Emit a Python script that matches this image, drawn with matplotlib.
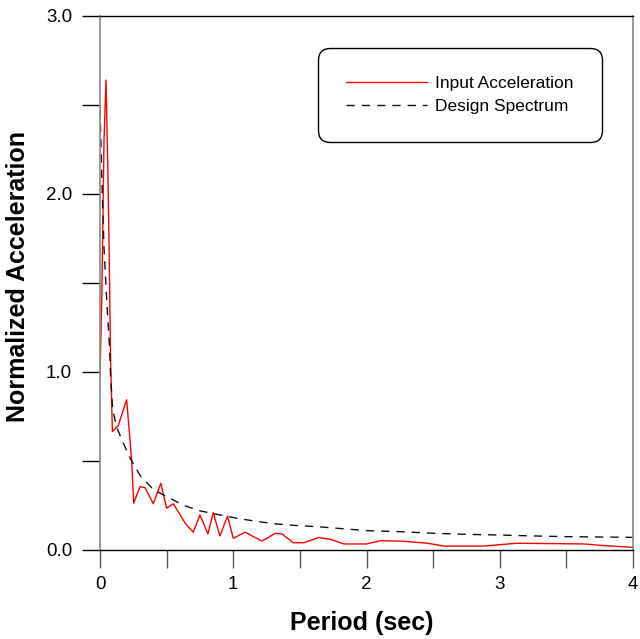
import matplotlib
matplotlib.use("Agg")
import matplotlib.pyplot as plt
from matplotlib.ticker import MultipleLocator, FormatStrFormatter

plt.rcParams['font.family'] = ['Liberation Sans', 'DejaVu Sans']

# input acceleration spectrum
period_in = [0, 0.013, 0.022, 0.03, 0.045, 0.06, 0.07, 0.08, 0.093, 0.138, 0.15, 0.2,
             0.238, 0.253, 0.30, 0.338, 0.40, 0.456, 0.50, 0.55, 0.64, 0.70, 0.75,
             0.81, 0.85, 0.90, 0.957, 1.00, 1.09, 1.215, 1.316, 1.366, 1.45, 1.53,
             1.64, 1.73, 1.83, 2.0, 2.1, 2.26, 2.46, 2.58, 2.88, 3.0, 3.13, 3.63,
             3.76, 4.0]
accel_in = [0.97, 1.41, 1.85, 2.3, 2.64, 2.1, 1.6, 1.05, 0.666, 0.70, 0.73, 0.844,
            0.5, 0.263, 0.356, 0.35, 0.26, 0.375, 0.235, 0.26, 0.15, 0.10, 0.197,
            0.09, 0.21, 0.079, 0.19, 0.066, 0.10, 0.05, 0.094, 0.09, 0.041, 0.041,
            0.07, 0.06, 0.034, 0.034, 0.052, 0.05, 0.038, 0.022, 0.022, 0.03, 0.038,
            0.034, 0.026, 0.015]

# design spectrum
period_ds = [0, 0.01, 0.02, 0.03, 0.05, 0.07, 0.08, 0.095, 0.125, 0.175, 0.23, 0.3,
             0.4, 0.5, 0.63, 0.75, 0.88, 1.03, 1.18, 1.33, 1.48, 1.63, 1.85, 2.0,
             2.25, 2.5, 2.75, 3.0, 3.25, 3.5, 3.75, 4.0]
accel_ds = [2.48, 2.2, 1.93, 1.7, 1.41, 1.16, 0.97, 0.79, 0.69, 0.60, 0.51, 0.42,
            0.34, 0.30, 0.25, 0.22, 0.20, 0.178, 0.16, 0.146, 0.137, 0.131, 0.118,
            0.109, 0.103, 0.094, 0.088, 0.084, 0.079, 0.075, 0.073, 0.071]

fig = plt.figure(figsize=(6.4, 6.39), dpi=100)
ax = fig.add_axes([100/640, 89/639, 533/640, 534/639])

ax.plot(period_in, accel_in, color='#ff0000', lw=1.0, label='Input Acceleration')
ax.plot(period_ds, accel_ds, color='#111111', lw=1.0, linestyle=(0, (6, 5)),
        label='Design Spectrum')

ax.set_xlim(0, 4)
ax.set_ylim(0, 3)

ax.xaxis.set_major_locator(MultipleLocator(1))
ax.xaxis.set_minor_locator(MultipleLocator(0.5))
ax.yaxis.set_major_locator(MultipleLocator(1))
ax.yaxis.set_minor_locator(MultipleLocator(0.5))
ax.yaxis.set_major_formatter(FormatStrFormatter('%.1f'))

ax.tick_params(axis='y', which='both', direction='out', length=13, width=1.0,
               color='black', labelsize=13.5, pad=7)
ax.tick_params(axis='x', which='both', direction='out', length=13, width=1.0,
               color='#555555', labelsize=13.5, pad=6)

for side in ['left', 'right']:
    ax.spines[side].set_color('#888888')
    ax.spines[side].set_linewidth(1.2)
for side in ['top', 'bottom']:
    ax.spines[side].set_color('black')
    ax.spines[side].set_linewidth(1.0)

leg = ax.legend(loc='upper right', bbox_to_anchor=(0.942, 0.940), borderaxespad=0,
                fontsize=12.5, handlelength=4.65, handletextpad=0.5,
                labelspacing=0.45, borderpad=1.62, fancybox=True, framealpha=1)
leg.get_frame().set_edgecolor('black')
leg.get_frame().set_linewidth(1.0)
leg.get_frame().set_boxstyle('round,pad=0,rounding_size=0.7')

fig.text(18/640, 1 - 277/639, 'Normalized Acceleration', rotation=90,
         ha='center', va='center', fontsize=18, fontweight='bold')
fig.text(362/640, 1 - 623/639, 'Period (sec)', ha='center', va='center',
         fontsize=18, fontweight='bold')

fig.savefig('out.png', dpi=100)
